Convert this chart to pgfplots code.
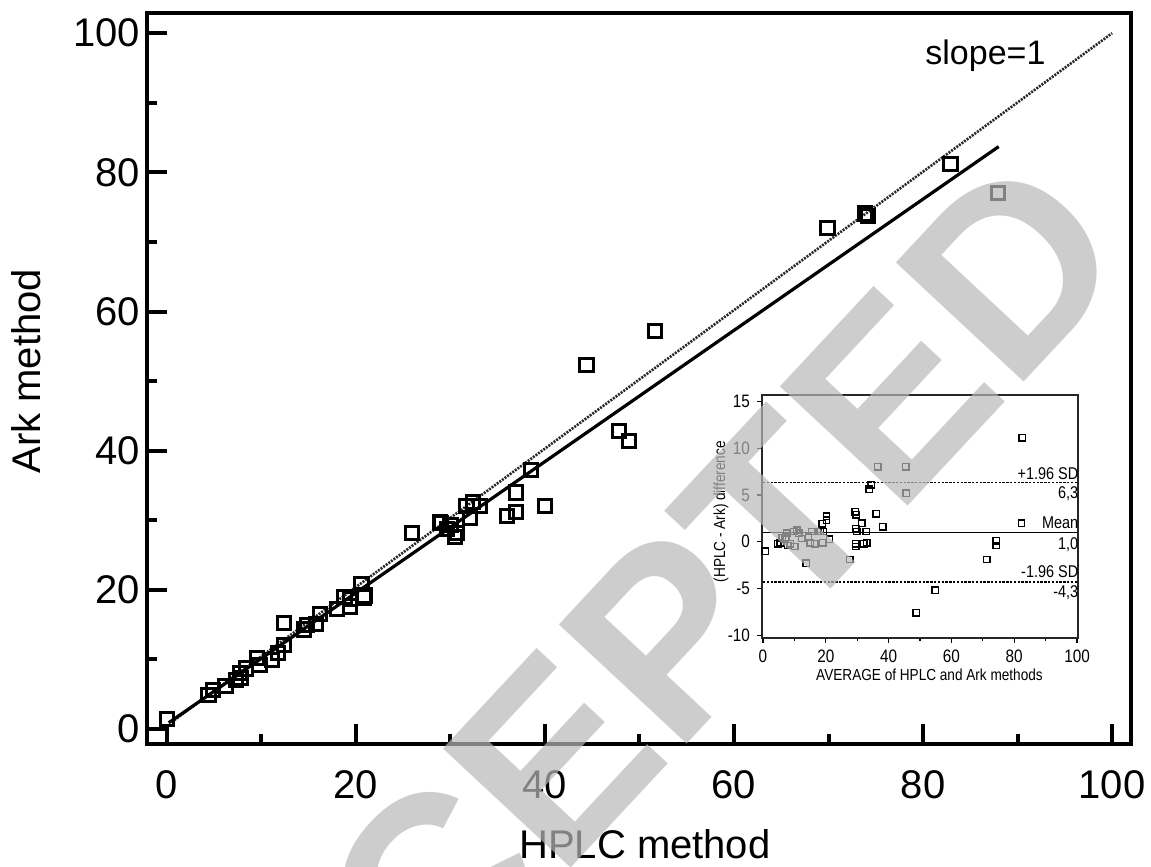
\documentclass[border=0pt]{standalone}
\usepackage{fontspec}
\setmainfont{Liberation Sans}
\newfontfamily\narrowfont{Liberation Sans}[FakeStretch=0.85]
\usepackage{pgfplots}
\usepackage{pgfplotstable}
\pgfplotsset{compat=1.18}

\pgfplotstableread{
x y
0.0 1.4
4.4 4.9
4.9 5.6
6.2 6.2
7.3 7.0
7.8 7.3
7.7 8.0
8.4 8.7
9.5 10.2
9.8 9.2
11.1 9.9
11.8 10.9
12.4 12.1
12.4 15.2
14.5 14.3
14.8 14.9
15.8 15.1
16.2 16.5
18.0 17.2
19.4 17.6
19.4 18.7
18.8 19.0
20.8 18.9
20.9 19.2
20.6 20.9
25.9 28.2
30.5 27.6
30.7 28.2
29.6 28.7
30.0 29.3
29.0 29.6
28.9 29.8
32.1 30.3
31.7 32.0
33.1 32.0
32.4 32.6
36.0 30.6
36.9 31.2
36.9 34.0
38.5 37.2
40.0 32.0
44.4 52.3
47.8 42.8
48.9 41.4
51.6 57.2
69.9 72.0
73.9 74.1
74.2 73.7
82.9 81.2
87.9 77.0
}\maindata

\pgfplotstableread{
a d
0.7 -1.0
4.7 -0.2
5.5 -0.1
6.1 0.4
7.1 0.25
7.6 0.9
7.4 0.5
7.9 -0.4
8.7 -0.2
10.1 -0.5
9.8 1.1
10.8 1.25
11.4 0.9
12.4 0.35
13.8 -2.3
14.5 0.5
15.1 -0.1
15.6 1.1
16.5 -0.2
17.7 1.1
18.2 1.1
18.8 1.9
19.3 1.1
19.1 -0.1
20.2 2.75
20.2 2.3
21.2 0.25
27.6 -1.9
29.4 3.2
29.7 2.9
29.6 1.4
29.9 1.1
29.6 -0.2
29.6 -0.5
31.5 2.0
32.1 -0.2
32.9 1.1
33.1 -0.1
33.8 5.6
34.4 6.1
36.0 3.0
36.5 8.0
38.1 1.6
45.5 8.0
45.6 5.2
48.8 -7.6
54.8 -5.2
71.3 -1.9
74.2 0.1
74.2 -0.4
82.5 11.1
82.3 2.0
}\badata

\begin{document}
\begin{tikzpicture}
\path[use as bounding box] (-73.5pt,-61.5pt) rectangle (502pt,372pt);
\begin{axis}[
  at={(0pt,0pt)}, anchor=south west,
  scale only axis, width=492pt, height=365.5pt,
  xmin=-2.1, xmax=102, ymin=-2.15, ymax=102.9,
  axis line style={line width=2pt},
  xtick={0,20,...,100}, ytick={0,20,...,100},
  minor xtick={10,30,...,90}, minor ytick={10,30,...,90},
  tick align=inside, xtick pos=bottom, ytick pos=left,
  major tick length=10pt, minor tick length=5pt,
  every tick/.style={line width=2pt, black},
  every minor tick/.style={line width=2pt, black},
  ticklabel style={font=\fontsize{20}{24}\selectfont},
  xticklabel style={yshift=-10pt},
  /pgf/number format/assume math mode=true,
  xlabel={HPLC method}, ylabel={Ark method},
  label style={font=\fontsize{20}{24}\selectfont},
  xlabel style={at={(axis description cs:0.506,-0.137)}, anchor=center},
  ylabel style={at={(axis description cs:-0.123,0.51)}, anchor=center},
  clip=false,
]
\addplot[only marks, mark=square, mark size=3.3pt, mark options={line width=1.5pt, solid, black}] table[x=x,y=y] {\maindata};
\addplot[black!85, line width=1.3pt, dash pattern=on 1pt off 0.6pt] coordinates {(0.5,1.0) (100,100)};
\addplot[black, line width=1.6pt] coordinates {(0.2,0.9) (88.0,83.7)};
\node[font=\fontsize{17}{20}\selectfont] at (axis cs:86.6,96.8) {slope=1};
\end{axis}

\begin{axis}[
  at={(307.5pt,53pt)}, anchor=south west,
  scale only axis, width=158pt, height=121.5pt,
  xmin=-0.3, xmax=100.3, ymin=-10.3, ymax=15.7,
  axis line style={line width=0.7pt, black!85},
  axis background/.style={fill=white},
  xtick={0,20,...,100}, ytick={-10,-5,...,15},
  minor xtick={10,30,...,90},
  tick align=outside, xtick pos=bottom, ytick pos=left,
  major tick length=2.5pt, minor tick length=1.5pt,
  every tick/.style={line width=0.6pt, black},
  every minor tick/.style={line width=0.6pt, black},
  ticklabel style={font=\narrowfont\fontsize{9}{10}\selectfont},
  /pgf/number format/assume math mode=true,
  xlabel={AVERAGE of HPLC and Ark methods},
  ylabel={(HPLC - Ark) difference},
  label style={font=\narrowfont\fontsize{8}{9.5}\selectfont},
  xlabel style={at={(axis description cs:0.53,-0.15)}, anchor=center},
  ylabel style={at={(axis description cs:-0.13,0.52)}, anchor=center},
  clip=false,
]
\addplot[black, line width=0.7pt] coordinates {(0,1.0) (100,1.0)};
\addplot[black, line width=0.6pt, dash pattern=on 1.2pt off 0.7pt] coordinates {(0,6.3) (100,6.3)};
\addplot[black, line width=0.6pt, dash pattern=on 1.2pt off 0.7pt] coordinates {(0,-4.3) (100,-4.3)};
\addplot[only marks, mark=square, mark size=1.6pt, mark options={line width=0.7pt, solid, black}] table[x=a,y=d] {\badata};
\begin{scope}[every node/.style={font=\narrowfont\fontsize{8.5}{10}\selectfont, anchor=east, inner sep=0pt}]
\node at (axis cs:100.5,7.3) {+1.96 SD};
\node at (axis cs:100.5,5.1) {6,3};
\node at (axis cs:100.5,2.0) {Mean};
\node at (axis cs:100.5,-0.3) {1,0};
\node at (axis cs:100.5,-3.2) {-1.96 SD};
\node at (axis cs:100.5,-5.4) {-4,3};
\end{scope}
\end{axis}

\node[rotate=47, font=\fontsize{127}{127}\selectfont\bfseries, text=black!28, text opacity=0.7, inner sep=0pt] at (225pt,16pt) {ACCEPTED};
\end{tikzpicture}
\end{document}
